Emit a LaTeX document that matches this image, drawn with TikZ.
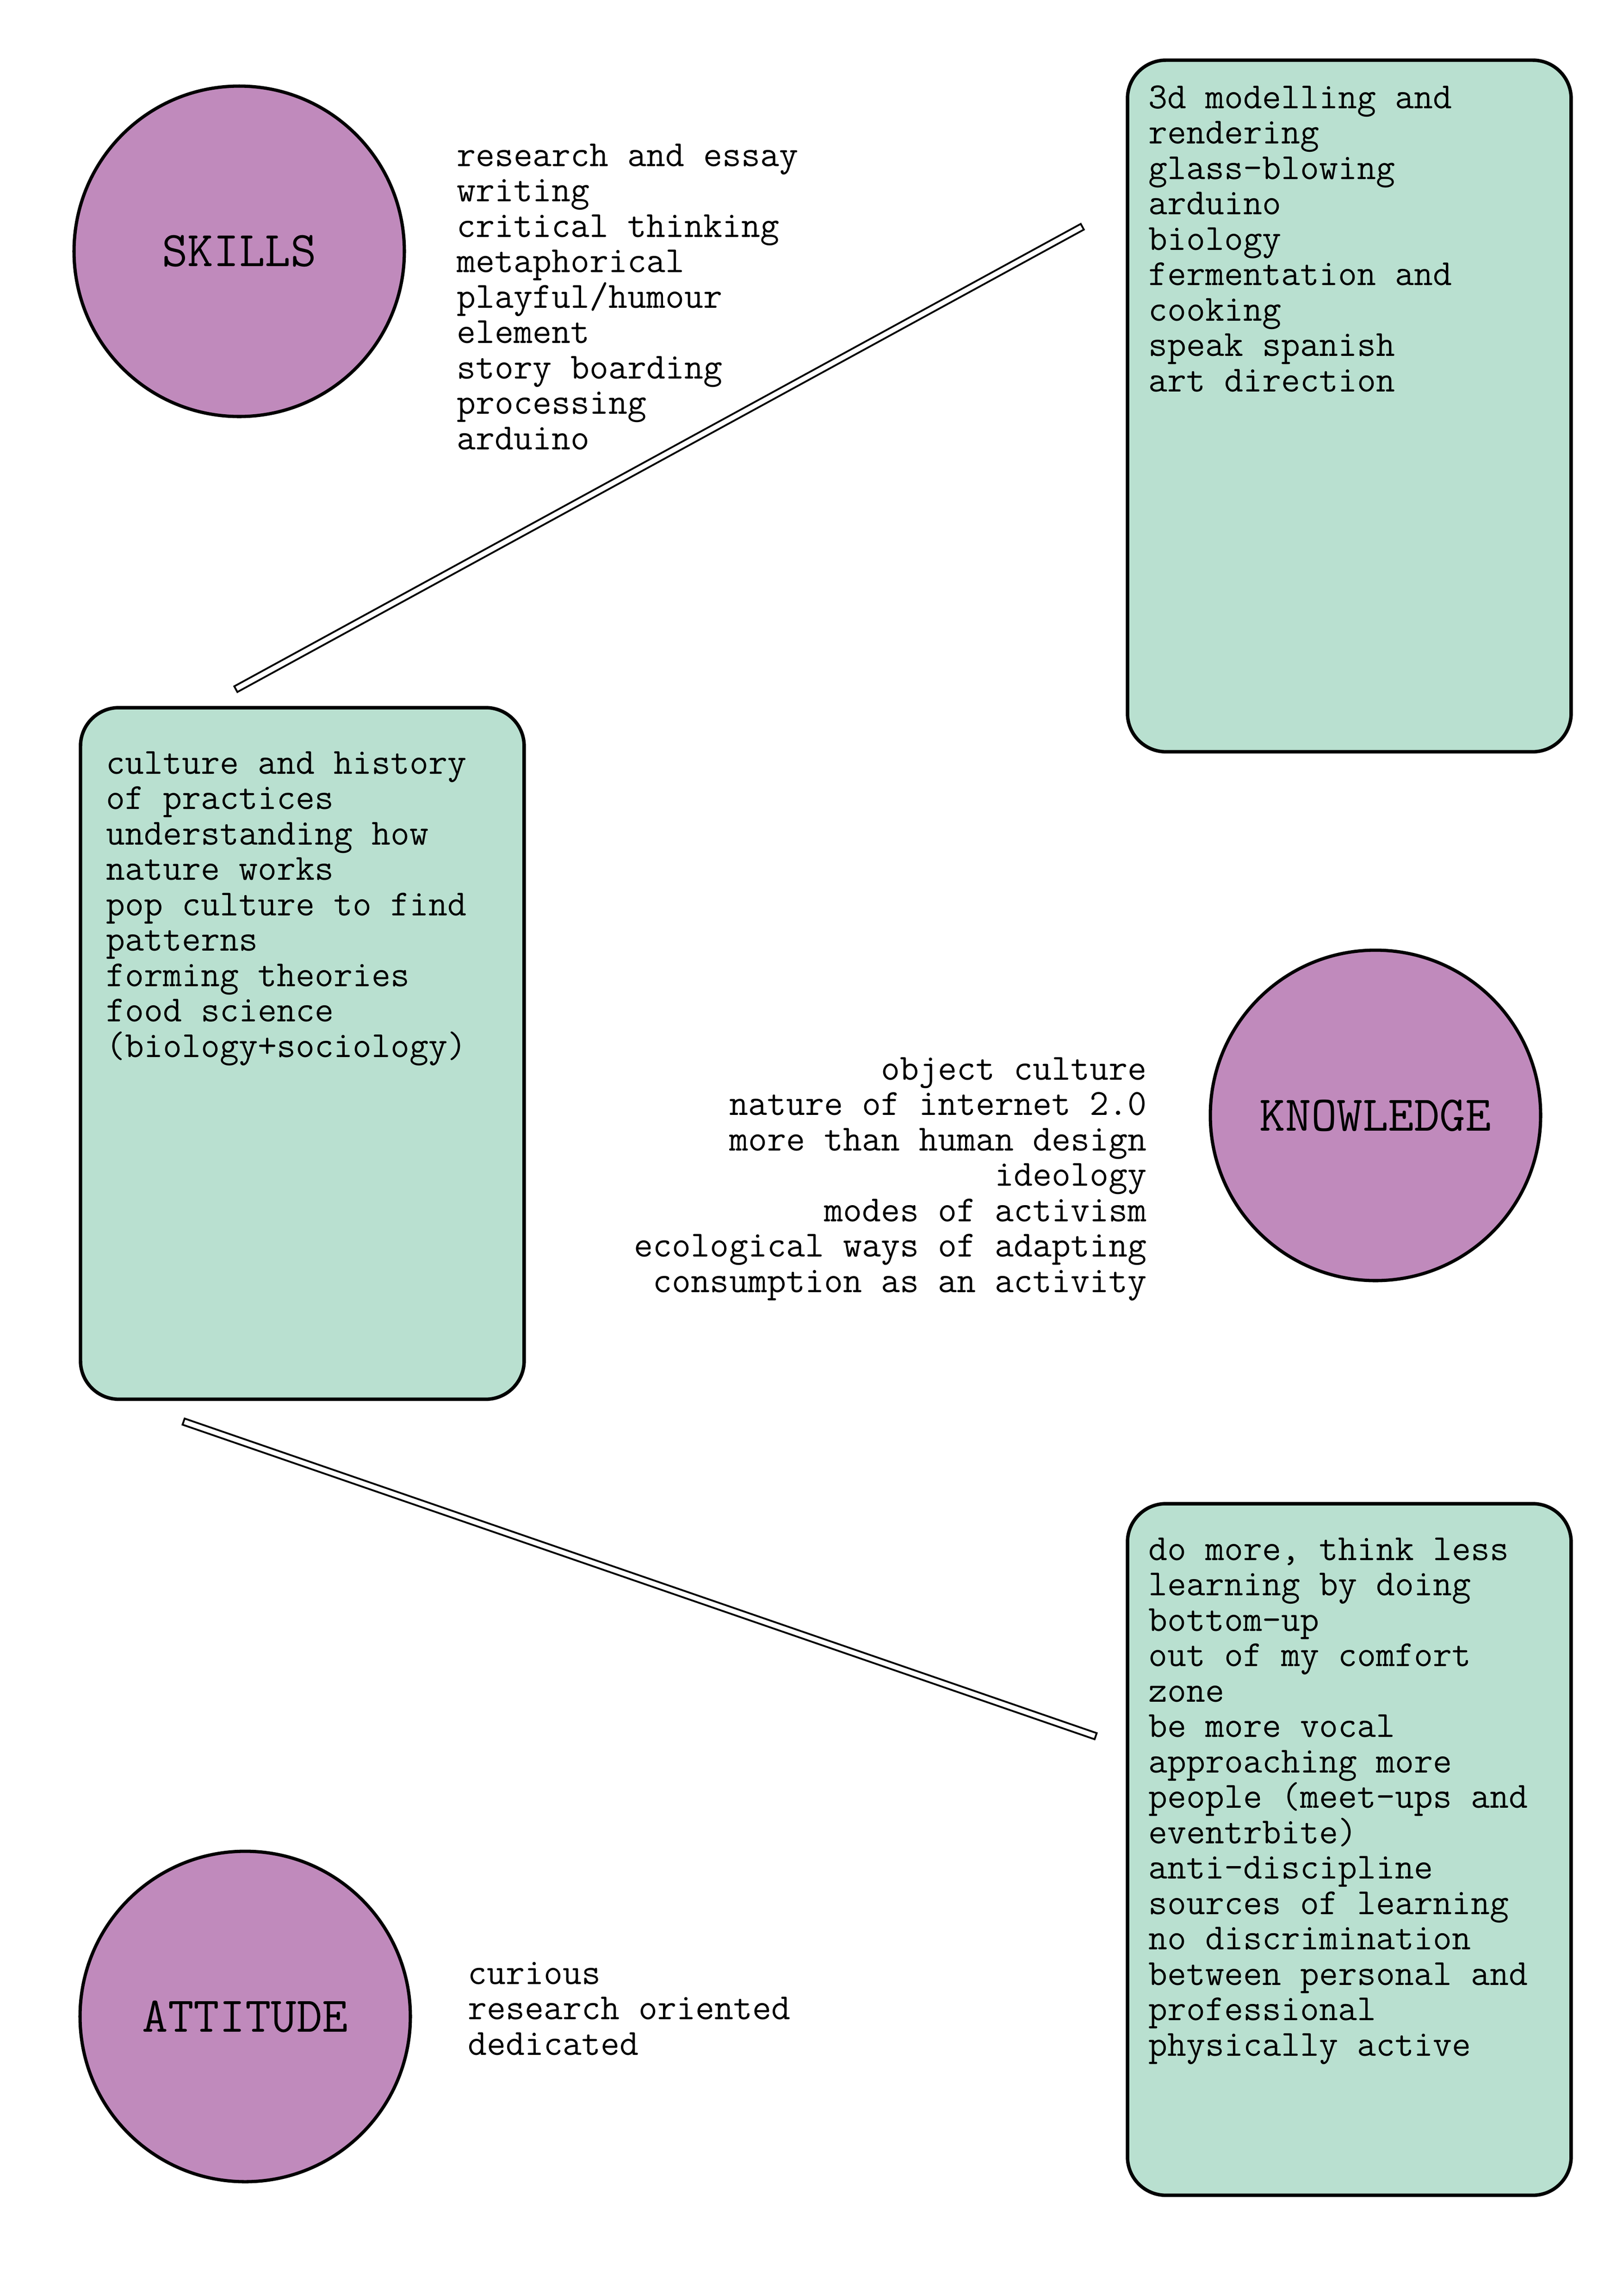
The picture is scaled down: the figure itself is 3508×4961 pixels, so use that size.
\documentclass[tikz,border=0pt]{standalone}
\usepackage{fontspec}
\definecolor{topicpurple}{HTML}{C08ABC}
\definecolor{cardgreen}{HTML}{B9E0D0}
\newcommand\blockL[1]{\vtop{\baselineskip=18.43pt\lineskiplimit=-100pt\lineskip=0pt\halign{##\hfil\cr#1\crcr}}}
\newcommand\blockR[1]{\vtop{\baselineskip=18.43pt\lineskiplimit=-100pt\lineskip=0pt\halign{\hfil##\cr#1\crcr}}}
\begin{document}
\begin{tikzpicture}[x=0.2409pt, y=-0.2409pt,
  topic/.style={circle, draw=black, line width=1.7pt, fill=topicpurple, minimum size=172pt, inner sep=0pt, outer sep=0pt, font=\fontsize{26}{30}\selectfont\ttfamily},
  cardbox/.style={rectangle, rounded corners=20pt, draw=black, line width=1.8pt, fill=cardgreen, minimum width=231pt, minimum height=360pt, anchor=north west, inner sep=0pt, outer sep=0pt},
  txt/.style={inner sep=0pt, outer sep=0pt, font=\fontsize{19.2}{18.43}\selectfont\ttfamily},
  bar/.style={line width=4.3pt, line cap=butt, postaction={draw=white, line width=2.4pt, shorten <=0.96pt, shorten >=0.96pt}}]
\fill[white] (0,0) rectangle (3508,4961);
\useasboundingbox (0,0) rectangle (3508,4961);

% topic circles
\node[topic] (skills) at (517,543) {SKILLS};
\node[topic] (knowledge) at (2973,2410) {KNOWLEDGE};
\node[topic] (attitude) at (530,4357) {ATTITUDE};

% cards
\node[cardbox] (cardtr) at (2437,130) {};
\node[cardbox] (cardl) at (174,1529) {};
\node[cardbox] (cardbr) at (2437,3249) {};

% texts
\node[txt, anchor=base west] (skillstxt) at (987,359) {\blockL{research and essay\cr
writing\cr
critical thinking\cr
metaphorical\cr
playful/humour\cr
element\cr
story boarding\cr
processing\cr
arduino}};

\node[txt, anchor=base west] (trtxt) at (2482,234) {\blockL{3d modelling and\cr
rendering\cr
glass-blowing\cr
arduino\cr
biology\cr
fermentation and\cr
cooking\cr
speak spanish\cr
art direction}};

\node[txt, anchor=base west] (ltxt) at (229,1672) {\blockL{culture and history\cr
of practices\cr
understanding how\cr
nature works\cr
pop culture to find\cr
patterns\cr
forming theories\cr
food science\cr
(biology+sociology)}};

\node[txt, anchor=base east] (knowtxt) at (2479,2333) {\blockR{object culture\cr
nature of internet 2.0\cr
more than human design\cr
ideology\cr
modes of activism\cr
ecological ways of adapting\cr
consumption as an activity}};

\node[txt, anchor=base west] (brtxt) at (2482,3371) {\blockL{do more, think less\cr
learning by doing\cr
bottom-up\cr
out of my comfort\cr
zone\cr
be more vocal\cr
approaching more\cr
people (meet-ups and\cr
eventrbite)\cr
anti-discipline\cr
sources of learning\cr
no discrimination\cr
between personal and\cr
professional\cr
physically active}};

\node[txt, anchor=base west] (atttxt) at (1011,4287) {\blockL{curious\cr
research oriented\cr
dedicated}};

% connectors
\coordinate (s1) at (508,1490);
\coordinate (e1) at (2341,489);
\coordinate (s2) at (395,3071);
\coordinate (e2) at (2370,3752);
\draw[bar] (s1) -- (e1);
\draw[bar] (s2) -- (e2);
\end{tikzpicture}
\end{document}
